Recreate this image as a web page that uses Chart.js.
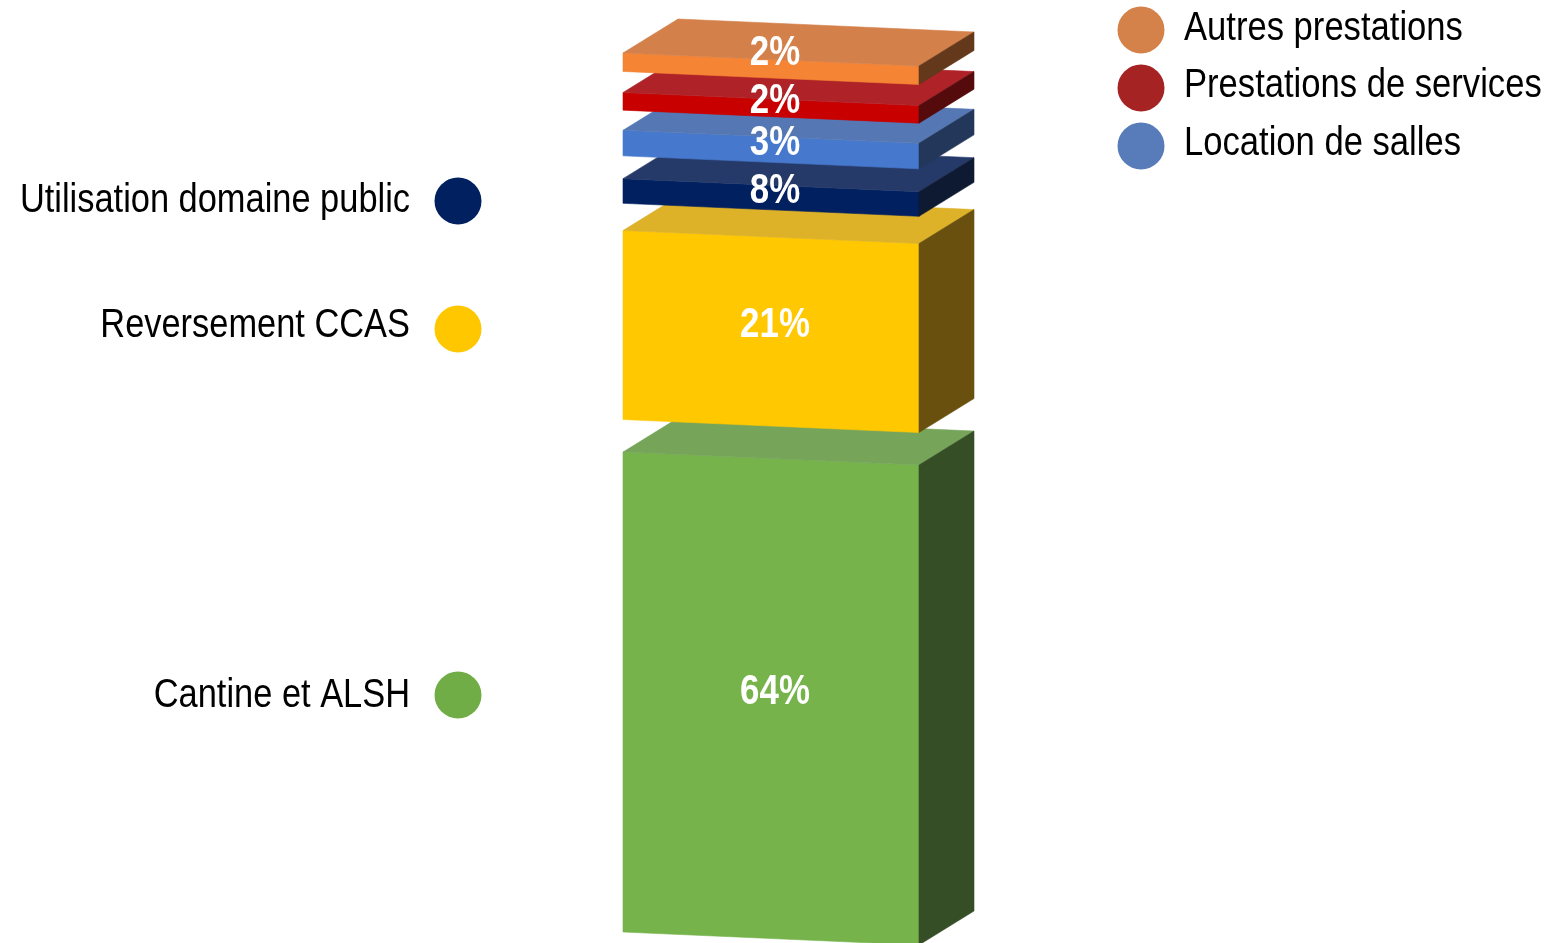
<!DOCTYPE html>
<html>
<head>
<meta charset="utf-8">
<script src="https://cdn.jsdelivr.net/npm/chart.js@4/dist/chart.umd.min.js"></script>
<style>
  html, body { margin: 0; padding: 0; background: #ffffff; }
  #wrap { width: 1555px; height: 943px; position: relative; }
</style>
</head>
<body>
<div id="wrap"><canvas id="c" width="1555" height="943"></canvas></div>
<script>
// ---- data (bottom to top of the stack) ----
const categories = ['Cantine et ALSH', 'Reversement CCAS', 'Utilisation domaine public',
                    'Location de salles', 'Prestations de services', 'Autres prestations'];
const shareLabels = ['64%', '21%', '8%', '3%', '2%', '2%'];
// extent of each floating slab on the hidden value axis (0–100)
const segmentStart = [0, 58.3, 82.9, 88.3, 93.5, 97.9];
const segmentEnd   = [54.6, 79.8, 85.7, 91.2, 95.5, 100];
const frontColors  = ['#76B34B', '#FFC800', '#002060', '#4678CD', '#C80000', '#F58434'];
const topColors    = ['#76A55A', '#DEB228', '#263A69', '#5578B4', '#AF2328', '#D3804A'];
const sideColors   = ['#354E26', '#69500F', '#0E1A32', '#23375A', '#550A0C', '#64381A'];
const legendColors = ['#70AD47', '#FFC700', '#002060', '#587CB9', '#A52323', '#D4824A'];

const FONT = '"Liberation Sans Narrow", "Arial Narrow", "Liberation Sans", Arial, sans-serif';
const SLOPE = 13 / 296;   // front face perspective tilt
const DX = 55, DY = -34;  // depth offset

const datasets = categories.map((name, i) => ({
  label: name,
  data: [[segmentStart[i], segmentEnd[i]]],
  backgroundColor: 'rgba(0,0,0,0)',
  borderWidth: 0,
  grouped: false,
  barPercentage: 1,
  categoryPercentage: 1
}));

function poly(ctx, pts, color) {
  ctx.beginPath();
  ctx.moveTo(pts[0][0], pts[0][1]);
  for (let k = 1; k < pts.length; k++) ctx.lineTo(pts[k][0], pts[k][1]);
  ctx.closePath();
  ctx.fillStyle = color;
  ctx.fill();
  ctx.strokeStyle = color;
  ctx.lineWidth = 0.6;
  ctx.stroke();
}

// narrow (condensed) text: the installed sans is squeezed horizontally
function narrowText(ctx, text, x, y, sx) {
  ctx.save();
  ctx.translate(x, y);
  ctx.scale(sx, 1);
  ctx.fillText(text, 0, 0);
  ctx.restore();
}

const slabs = {
  id: 'slabs',
  afterDatasetsDraw(chart) {
    const ctx = chart.ctx;
    ctx.save();
    chart.data.datasets.forEach((ds, i) => {
      const el = chart.getDatasetMeta(i).data[0];
      const L = el.x - el.width / 2, R = el.x + el.width / 2;
      const yT = Math.min(el.y, el.base), yB = Math.max(el.y, el.base);
      const drop = (R - L) * SLOPE;
      poly(ctx, [[L, yT], [R, yT + drop], [R, yB + drop], [L, yB]], frontColors[i]);
      poly(ctx, [[L, yT], [R, yT + drop], [R + DX, yT + drop + DY], [L + DX, yT + DY]], topColors[i]);
      poly(ctx, [[R, yT + drop], [R + DX, yT + drop + DY], [R + DX, yB + drop + DY], [R, yB + drop]], sideColors[i]);
    });
    // value labels (the topmost slab's label sits on its top edge)
    ctx.fillStyle = '#ffffff';
    ctx.textAlign = 'center';
    ctx.textBaseline = 'middle';
    ctx.font = 'bold 42px ' + FONT;
    const n = chart.data.datasets.length;
    chart.data.datasets.forEach((ds, i) => {
      const el = chart.getDatasetMeta(i).data[0];
      const yc = (i === n - 1) ? Math.min(el.y, el.base) : (el.y + el.base) / 2;
      narrowText(ctx, shareLabels[i], el.x + 4, yc, 0.83);
    });
    // side legends
    const leftItems = [ {i: 2, cy: 201, base: 212}, {i: 1, cy: 329, base: 337}, {i: 0, cy: 695, base: 707} ];
    const rightItems = [ {i: 5, cy: 30, base: 40}, {i: 4, cy: 88, base: 97}, {i: 3, cy: 146, base: 155} ];
    ctx.font = '40px ' + FONT;
    ctx.textBaseline = 'alphabetic';
    leftItems.forEach(it => {
      ctx.fillStyle = legendColors[it.i];
      ctx.beginPath(); ctx.arc(458, it.cy, 23.5, 0, Math.PI * 2); ctx.fill();
      ctx.fillStyle = '#000000';
      ctx.textAlign = 'right';
      narrowText(ctx, categories[it.i], 410, it.base, 0.86);
    });
    rightItems.forEach(it => {
      ctx.fillStyle = legendColors[it.i];
      ctx.beginPath(); ctx.arc(1141, it.cy, 23.5, 0, Math.PI * 2); ctx.fill();
      ctx.fillStyle = '#000000';
      ctx.textAlign = 'left';
      narrowText(ctx, categories[it.i], 1184, it.base, 0.865);
    });
    ctx.restore();
  }
};

new Chart(document.getElementById('c'), {
  type: 'bar',
  data: { labels: [''], datasets },
  options: {
    responsive: false,
    animation: false,
    events: [],
    layout: { padding: { left: 623, right: 636, top: 53, bottom: 11 } },
    scales: {
      x: { display: false },
      y: { display: false, min: 0, max: 100 }
    },
    plugins: { legend: { display: false }, tooltip: { enabled: false } }
  },
  plugins: [slabs]
});
</script>
</body>
</html>
